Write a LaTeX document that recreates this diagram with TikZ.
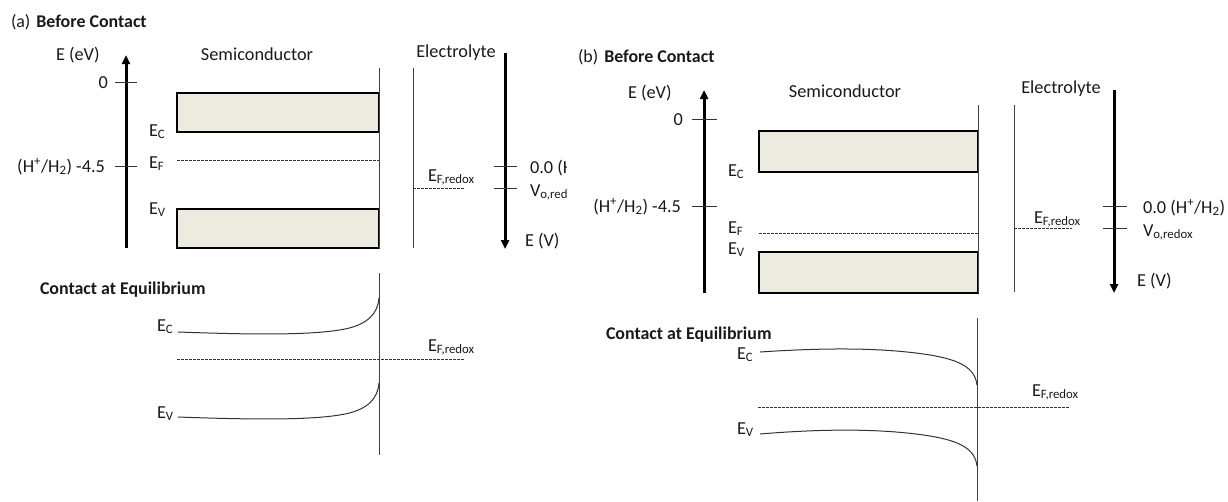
\documentclass[tikz,border=0pt]{standalone}
\usepackage{fontspec}
\setmainfont{Carlito}
\usetikzlibrary{arrows.meta}
\definecolor{bandfill}{HTML}{EDEAE0}
\newcommand\lsub[1]{\textsubscript{#1}}
\newcommand\lsup[1]{\textsuperscript{#1}}
\begin{document}
\begin{tikzpicture}[x=1pt,y=-1pt,
 font=\fontsize{18.3}{21}\selectfont,
 every node/.style={inner sep=0pt, outer sep=0pt, text=black!90},
 axis/.style={line width=3pt, -{Triangle[length=9pt,width=8pt]}},
 tickmark/.style={line width=0.8pt, black!80},
 iface/.style={line width=1pt, black!75},
 band/.style={draw=black, line width=2pt, fill=bandfill},
 fermi/.style={line width=0.7pt, black!80, dash pattern=on 2.5pt off 1.5pt},
 curve/.style={line width=1pt, black!80},
 lbl/.style={anchor=base west},
 rlbl/.style={anchor=base east},
 clbl/.style={anchor=base},
 ttl/.style={anchor=base west, font=\fontsize{17.9}{21}\selectfont}
]
\useasboundingbox (0,0) rectangle (1228,501);

% ================= (a) Before contact =================
\node[ttl] (aT) at (11,27) {(a)\hspace{6pt}\textbf{Before Contact}};
\node[lbl] (aEeV) at (56,60) {E (eV)};
\coordinate (aAxB) at (126,248); \coordinate (aAxT) at (126,55);
\draw[axis] (aAxB) -- (aAxT);
\coordinate (aT0l) at (115,82); \coordinate (aT0r) at (137,82);
\draw[tickmark] (aT0l) -- (aT0r);
\node[rlbl] (aZero) at (108,88) {0};
\coordinate (aT45l) at (115,166); \coordinate (aT45r) at (137,166);
\draw[tickmark] (aT45l) -- (aT45r);
\node[rlbl] (aHH) at (105,172) {(H\lsup{+}/H\lsub{2}) -4.5};
\node[clbl] (aSemi) at (257,60) {Semiconductor};
\node[band, minimum width=202pt, minimum height=39pt] (aCB) at (278,112.5) {};
\node[band, minimum width=202pt, minimum height=39pt] (aVB) at (278,228.5) {};
\coordinate (aIfT) at (379,68); \coordinate (aIfB) at (379,249);
\draw[iface] (aIfT) -- (aIfB);
\coordinate (aEFl) at (177,160); \coordinate (aEFr) at (379,160);
\draw[fermi] (aEFl) -- (aEFr);
\node[lbl] (aEC) at (149,136) {E\lsub{C}};
\node[lbl] (aEF) at (149,168) {E\lsub{F}};
\node[lbl] (aEV) at (149,214) {E\lsub{V}};
\coordinate (aElT) at (413,68); \coordinate (aElB) at (413,248);
\draw[iface] (aElT) -- (aElB);
\node[clbl] (aElec) at (456,57) {Electrolyte};
\coordinate (aVT) at (505,53); \coordinate (aVB2) at (505,249);
\draw[axis] (aVT) -- (aVB2);
\coordinate (aT00l) at (494,166); \coordinate (aT00r) at (517,166);
\draw[tickmark] (aT00l) -- (aT00r);
\coordinate (aTVl) at (494,188); \coordinate (aTVr) at (517,188);
\draw[tickmark] (aTVl) -- (aTVr);
\begin{scope}
\clip (500,0) rectangle (566,501);
\node[lbl] (aZ00) at (530,173) {0.0 (H\lsup{+}/H\lsub{2})};
\node[lbl] (aVo) at (530,196) {V\lsub{o,redox}};
\end{scope}
\node[lbl] (aEFr1) at (428,181) {E\lsub{F,redox}};
\coordinate (aRl) at (413,188); \coordinate (aRr) at (465,188);
\draw[fermi] (aRl) -- (aRr);
\node[lbl] (aEV2) at (525,246) {E (V)};

% ================= (a) Contact =================
\node[ttl] (aCT) at (40,294) {\textbf{Contact at Equilibrium}};
\coordinate (aCIfT) at (379,273); \coordinate (aCIfB) at (379,455);
\draw[iface] (aCIfT) -- (aCIfB);
\node[lbl] (aCEC) at (157,331) {E\lsub{C}};
\node[lbl] (aCEV) at (157,418) {E\lsub{V}};
\node[lbl] (aCEF) at (428,351) {E\lsub{F,redox}};
\coordinate (aCFl) at (177,359); \coordinate (aCFr) at (465,359);
\draw[fermi] (aCFl) -- (aCFr);
\coordinate (aCc0) at (178,332); \coordinate (aCc1) at (345,329); \coordinate (aCc2) at (379,298);
\draw[curve] (aCc0) .. controls (260,335) and (315,335) .. (aCc1) .. controls (368,324.4) and (378,313) .. (aCc2);
\coordinate (aCv0) at (178,417); \coordinate (aCv1) at (345,414); \coordinate (aCv2) at (379,383);
\draw[curve] (aCv0) .. controls (260,420) and (315,420) .. (aCv1) .. controls (368,409.4) and (378,398) .. (aCv2);

% ================= (b) Before contact =================
\node[ttl] (bT) at (578,62) {(b)\hspace{6pt}\textbf{Before Contact}};
\node[lbl] (bEeV) at (628,98) {E (eV)};
\coordinate (bAxB) at (704,293); \coordinate (bAxT) at (704,90);
\draw[axis] (bAxB) -- (bAxT);
\coordinate (bT0l) at (692,119); \coordinate (bT0r) at (717,119);
\draw[tickmark] (bT0l) -- (bT0r);
\node[rlbl] (bZero) at (683,125) {0};
\coordinate (bT45l) at (692,206); \coordinate (bT45r) at (717,206);
\draw[tickmark] (bT45l) -- (bT45r);
\node[rlbl] (bHH) at (681,212) {(H\lsup{+}/H\lsub{2}) -4.5};
\node[clbl] (bSemi) at (845,97) {Semiconductor};
\node[band, minimum width=219pt, minimum height=41pt] (bCB) at (868.5,151.5) {};
\node[band, minimum width=219pt, minimum height=41pt] (bVB) at (868.5,272.5) {};
\coordinate (bIfT) at (978,105); \coordinate (bIfB) at (978,293);
\draw[iface] (bIfT) -- (bIfB);
\coordinate (bEFl) at (759,233); \coordinate (bEFr) at (978,233);
\draw[fermi] (bEFl) -- (bEFr);
\node[lbl] (bEC) at (728,176) {E\lsub{C}};
\node[lbl] (bEF) at (728,233) {E\lsub{F}};
\node[lbl] (bEV) at (728,254) {E\lsub{V}};
\coordinate (bElT) at (1014,105); \coordinate (bElB) at (1014,292);
\draw[iface] (bElT) -- (bElB);
\node[clbl] (bElec) at (1061,93) {Electrolyte};
\coordinate (bVT) at (1114,90); \coordinate (bVB2) at (1114,293);
\draw[axis] (bVT) -- (bVB2);
\coordinate (bT00l) at (1103,206); \coordinate (bT00r) at (1127,206);
\draw[tickmark] (bT00l) -- (bT00r);
\coordinate (bTVl) at (1103,228); \coordinate (bTVr) at (1127,228);
\draw[tickmark] (bTVl) -- (bTVr);
\node[lbl] (bZ00) at (1143,213) {0.0 (H\lsup{+}/H\lsub{2})};
\node[lbl] (bVo) at (1143,236) {V\lsub{o,redox}};
\node[lbl] (bEFr1) at (1034,223) {E\lsub{F,redox}};
\coordinate (bRl) at (1014,228); \coordinate (bRr) at (1072,228);
\draw[fermi] (bRl) -- (bRr);
\node[lbl] (bEV2) at (1137,286) {E (V)};

% ================= (b) Contact =================
\node[ttl] (bCT) at (606,339) {\textbf{Contact at Equilibrium}};
\coordinate (bCIfT) at (977,318); \coordinate (bCIfB) at (977,501);
\draw[iface] (bCIfT) -- (bCIfB);
\node[lbl] (bCEC) at (737,359) {E\lsub{C}};
\node[lbl] (bCEV) at (737,434) {E\lsub{V}};
\node[lbl] (bCEF) at (1032,396) {E\lsub{F,redox}};
\coordinate (bCFl) at (758,407); \coordinate (bCFr) at (1070,407);
\draw[fermi] (bCFl) -- (bCFr);
\coordinate (bCc0) at (760,352); \coordinate (bCc1) at (930,355); \coordinate (bCc2) at (977,385);
\draw[curve] (bCc0) .. controls (820,348) and (880,347) .. (bCc1) .. controls (960,360) and (975,368) .. (bCc2);
\coordinate (bCv0) at (760,434); \coordinate (bCv1) at (930,436); \coordinate (bCv2) at (977,466);
\draw[curve] (bCv0) .. controls (820,429) and (880,428) .. (bCv1) .. controls (960,441) and (975,449) .. (bCv2);
\end{tikzpicture}
\end{document}
